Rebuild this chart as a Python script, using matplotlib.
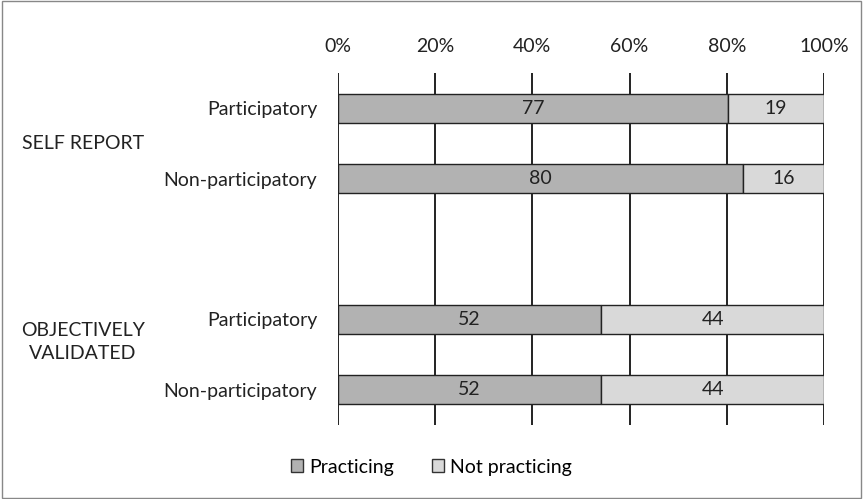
import matplotlib
matplotlib.use("Agg")
import matplotlib.pyplot as plt
from matplotlib.patches import Rectangle, Patch
import numpy as np

plt.rcParams['font.family'] = ['Lato', 'DejaVu Sans']

categories = ["Participatory", "Non-participatory", "Participatory", "Non-participatory"]
groups = ["SELF REPORT", "OBJECTIVELY\nVALIDATED"]
practicing = [77, 80, 52, 52]
not_practicing = [19, 16, 44, 44]
tick_labels = ["0%", "20%", "40%", "60%", "80%", "100%"]

positions = [0, 1, 3, 4]
group_centers = [0.5, 3.5]

c_prac = "#B2B2B2"
c_not = "#D9D9D9"

fig = plt.figure(figsize=(8.63, 4.99), dpi=100)
ax = fig.add_axes([338/863, 1 - 425/499, (824 - 338)/863, (425 - 73)/499])

prac = np.array(practicing, dtype=float)
notp = np.array(not_practicing, dtype=float)
tot = prac + notp
p_share = prac / tot * 100
n_share = notp / tot * 100

h = 0.41
ax.barh(positions, p_share, height=h, color=c_prac, edgecolor="#222222", linewidth=1.0, zorder=3)
ax.barh(positions, n_share, left=p_share, height=h, color=c_not, edgecolor="#222222", linewidth=1.0, zorder=3)

fs = 14
for y, ps, ns, pv, nv in zip(positions, p_share, n_share, prac, notp):
    ax.text(ps / 2, y, f"{pv:.0f}", ha="center", va="center", fontsize=fs, color="#222222", zorder=4)
    ax.text(ps + ns / 2, y, f"{nv:.0f}", ha="center", va="center", fontsize=fs, color="#222222", zorder=4)

ax.set_xlim(0, 100)
ax.set_ylim(4.5, -0.5)
ax.set_xticks(np.arange(0, 101, 20))
ax.set_xticklabels(tick_labels, fontsize=fs, color="#222222")
ax.xaxis.tick_top()
ax.tick_params(axis="x", length=0, pad=13)
ax.set_yticks(positions)
ax.set_yticklabels(categories, fontsize=fs, color="#222222")
ax.tick_params(axis="y", length=0, pad=15)
for s in ax.spines.values():
    s.set_visible(False)
ax.grid(axis="x", color="#111111", linewidth=1.3)
ax.set_axisbelow(True)

for gy, gl in zip(group_centers, groups):
    yy = gy if "\n" not in gl else gy - 0.18
    ax.text(-0.525, yy, gl, transform=ax.get_yaxis_transform(), ha="center", va="center",
            fontsize=fs, color="#222222", linespacing=1.4)

handles = [Patch(facecolor=c_prac, edgecolor="#333333", label="Practicing"),
           Patch(facecolor=c_not, edgecolor="#333333", label="Not practicing")]
fig.legend(handles=handles, loc="center", bbox_to_anchor=(0.5, 1 - 467/499), ncol=2,
           frameon=False, fontsize=fs, handlelength=0.6, handleheight=0.6,
           handletextpad=0.3, columnspacing=2.0)

fig.patches.append(Rectangle((0.002, 0.002), 0.996, 0.996, transform=fig.transFigure,
                             fill=False, edgecolor="#888888", linewidth=1.0))

fig.savefig("out.png", dpi=100, facecolor="white")
